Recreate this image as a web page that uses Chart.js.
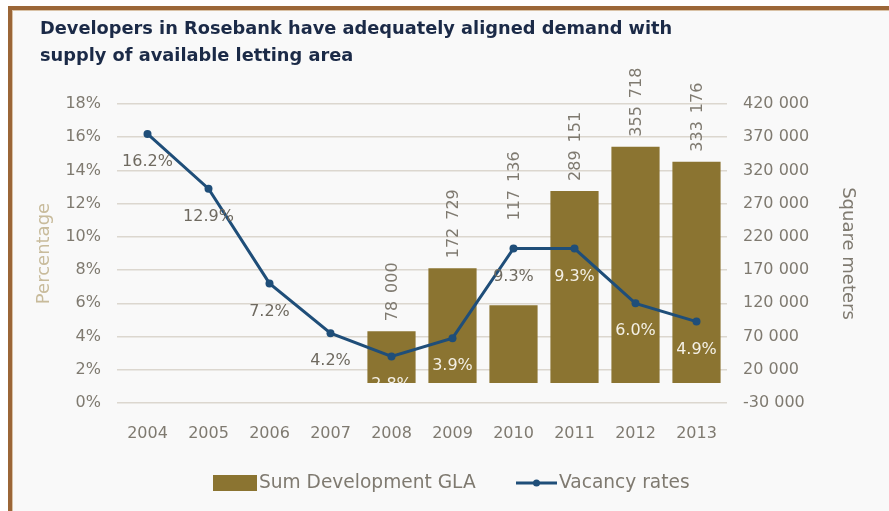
<!DOCTYPE html>
<html>
<head>
<meta charset="utf-8">
<script src="https://cdn.jsdelivr.net/npm/chart.js@4/dist/chart.umd.min.js"></script>
<style>
  html, body { margin: 0; padding: 0; background: #ffffff; }
  #wrap { position: relative; width: 889px; height: 511px; overflow: hidden; }
  #frame {
    position: absolute; left: 8px; top: 6px; right: 0; bottom: 0;
    background: #f9f9f9;
    border-top: 4px solid #9b6637;
    border-left: 4px solid #9b6637;
    box-shadow: inset 1px 1px 0 #d9c2a6;
  }
  #chart { position: absolute; left: 0; top: 0; }
</style>
</head>
<body>
<div id="wrap">
  <div id="frame"></div>
  <canvas id="chart" width="889" height="511"></canvas>
</div>
<script>
// Rosebank office market: vacancy rate (%) against development GLA (m²)
const years = ['2004', '2005', '2006', '2007', '2008', '2009', '2010', '2011', '2012', '2013'];
const vacancyRates = [16.2, 12.9, 7.2, 4.2, 2.8, 3.9, 9.3, 9.3, 6.0, 4.9];
const developmentGLA = [null, null, null, null, 78000, 172729, 117136, 289151, 355718, 333176];

const titleLines = [
  'Developers in Rosebank have adequately aligned demand with',
  'supply of available letting area'
];
const seriesNames = ['Sum Development GLA', 'Vacancy rates'];
const pctAxisRange = [0, 18, 2];
const areaAxisRange = [-30000, 420000, 50000];

const FONT = '"DejaVu Sans", sans-serif';
const GOLD = '#8b7431';
const BLUE = '#1f4e79';
const TICK_GREY = '#7f7a70';

function spaced(n) {
  return String(Math.abs(n)).replace(/\B(?=(\d{3})+(?!\d))/g, ' ');
}
function areaLabel(n) {
  return (n < 0 ? '-' : '') + spaced(n);
}

// heading above the plot
const headingPlugin = {
  id: 'heading',
  beforeDraw(chart) {
    const ctx = chart.ctx;
    ctx.save();
    ctx.fillStyle = '#1b2a47';
    ctx.font = 'bold 17.8px ' + FONT;
    ctx.textAlign = 'left';
    ctx.textBaseline = 'alphabetic';
    ctx.fillText(titleLines[0], 40, 34);
    ctx.fillText(titleLines[1], 40, 61);
    ctx.restore();
  }
};

// value labels: rotated GLA figures over the bars, rates under the points
const valueLabelPlugin = {
  id: 'valueLabels',
  afterDatasetsDraw(chart) {
    const ctx = chart.ctx;
    const barMeta = chart.getDatasetMeta(0);
    const lineMeta = chart.getDatasetMeta(1);
    const area = chart.chartArea;

    ctx.save();
    ctx.font = '16px ' + FONT;
    ctx.fillStyle = TICK_GREY;
    barMeta.data.forEach((bar, i) => {
      const v = developmentGLA[i];
      if (v == null) return;
      // keep the figure clear of a rate marker sitting above the bar
      const pt = lineMeta.data[i];
      let start = bar.y - 10;
      if (pt.y < bar.y) start = Math.min(start, pt.y - 28);
      ctx.save();
      ctx.translate(bar.x + 1, start);
      ctx.rotate(-Math.PI / 2);
      ctx.textAlign = 'left';
      ctx.textBaseline = 'middle';
      ctx.fillText(spaced(v).replace(' ', '\u2002'), 0, 0);
      ctx.restore();
    });
    ctx.restore();

    const baseY = chart.scales.yArea.getPixelForValue(0);
    ctx.save();
    ctx.beginPath();
    ctx.rect(area.left, area.top - 40, area.right - area.left, baseY - area.top + 40);
    ctx.clip();
    ctx.font = '16px ' + FONT;
    ctx.textAlign = 'center';
    ctx.textBaseline = 'middle';
    lineMeta.data.forEach((pt, i) => {
      const ly = pt.y + 28;
      const bar = barMeta.data[i];
      const inside = developmentGLA[i] != null && ly - 6 > bar.y &&
        Math.abs(pt.x - bar.x) < bar.width / 2;
      ctx.fillStyle = inside ? '#f4f0e6' : '#6f6a60';
      ctx.fillText(vacancyRates[i].toFixed(1) + '%', pt.x, ly);
    });
    ctx.restore();
  }
};

// legend row along the bottom
const keyPlugin = {
  id: 'key',
  afterDraw(chart) {
    const ctx = chart.ctx;
    const cy = 483;
    ctx.save();
    ctx.fillStyle = GOLD;
    ctx.fillRect(213, cy - 8, 44, 16);
    ctx.font = '18.6px ' + FONT;
    ctx.fillStyle = TICK_GREY;
    ctx.textAlign = 'left';
    ctx.textBaseline = 'middle';
    ctx.fillText(seriesNames[0], 259, cy);

    ctx.strokeStyle = BLUE;
    ctx.lineWidth = 3;
    ctx.beginPath();
    ctx.moveTo(516, cy);
    ctx.lineTo(557, cy);
    ctx.stroke();
    ctx.fillStyle = BLUE;
    ctx.beginPath();
    ctx.arc(536.5, cy, 3.5, 0, Math.PI * 2);
    ctx.fill();
    ctx.fillStyle = TICK_GREY;
    ctx.fillText(seriesNames[1], 559, cy);
    ctx.restore();
  }
};

new Chart(document.getElementById('chart'), {
  data: {
    labels: years,
    datasets: [
      {
        type: 'bar',
        label: seriesNames[0],
        data: developmentGLA,
        yAxisID: 'yArea',
        backgroundColor: GOLD,
        borderWidth: 0,
        barPercentage: 0.79,
        categoryPercentage: 1,
        order: 2
      },
      {
        type: 'line',
        label: seriesNames[1],
        data: vacancyRates,
        yAxisID: 'yPct',
        borderColor: BLUE,
        backgroundColor: BLUE,
        borderWidth: 3,
        pointRadius: 4,
        pointBorderWidth: 0,
        tension: 0,
        order: 1
      }
    ]
  },
  options: {
    responsive: false,
    animation: false,
    devicePixelRatio: 1,
    layout: { padding: { top: 104, left: 0, right: 0, bottom: 0 } },
    plugins: {
      legend: { display: false },
      title: { display: false },
      tooltip: { enabled: false }
    },
    scales: {
      x: {
        offset: true,
        grid: { display: false },
        border: { display: false },
        ticks: { color: TICK_GREY, font: { family: FONT, size: 16 }, padding: 13, maxRotation: 0 },
        afterFit(scale) { scale.height = 108; }
      },
      yPct: {
        position: 'left',
        min: pctAxisRange[0],
        max: pctAxisRange[1],
        ticks: {
          stepSize: pctAxisRange[2],
          color: TICK_GREY,
          font: { family: FONT, size: 16 },
          padding: 16,
          callback: v => v + '%'
        },
        grid: { color: '#dcd7cf', lineWidth: 1.5, drawTicks: false },
        border: { display: false },
        title: {
          display: true,
          text: 'Percentage',
          color: '#c8bb9b',
          font: { family: FONT, size: 18 },
          padding: { top: 34, bottom: 0 }
        },
        afterFit(scale) { scale.width = 117; }
      },
      yArea: {
        position: 'right',
        min: areaAxisRange[0],
        max: areaAxisRange[1],
        ticks: {
          stepSize: areaAxisRange[2],
          color: TICK_GREY,
          font: { family: FONT, size: 16 },
          padding: 16,
          callback: v => areaLabel(v)
        },
        grid: { display: false, drawTicks: false },
        border: { display: false },
        title: {
          display: true,
          text: 'Square meters',
          color: TICK_GREY,
          font: { family: FONT, size: 18 },
          padding: { top: 31, bottom: 0 }
        },
        afterFit(scale) { scale.width = 162; }
      }
    }
  },
  plugins: [headingPlugin, valueLabelPlugin, keyPlugin]
});
</script>
</body>
</html>
